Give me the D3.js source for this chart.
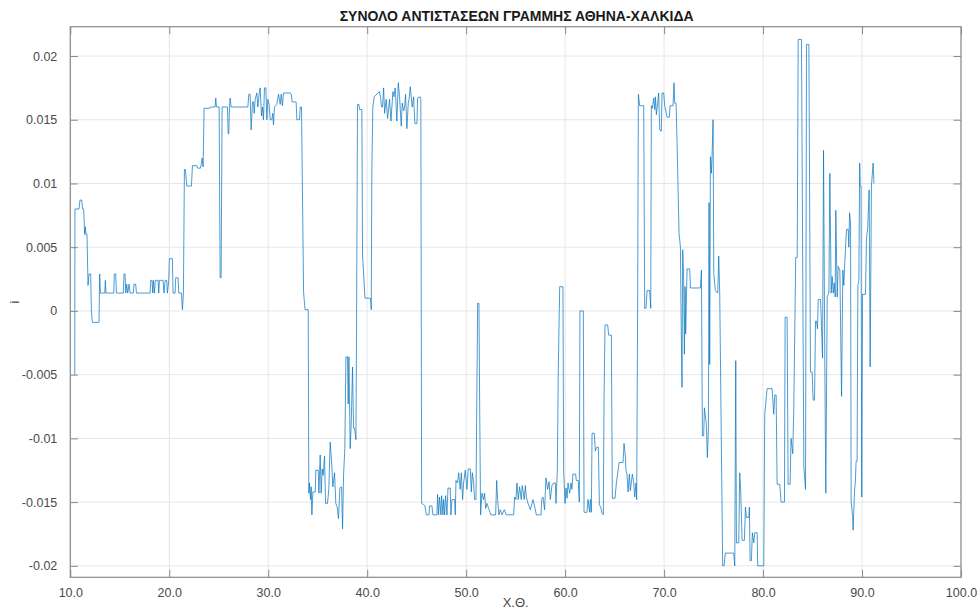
<!DOCTYPE html>
<html>
<head>
<meta charset="utf-8">
<script src="https://cdn.jsdelivr.net/npm/d3@7"></script>
<style>
  html, body { margin: 0; padding: 0; background: #fff; }
  svg { display: block; }
</style>
</head>
<body>
<svg id="chart" width="979" height="611"></svg>
<script>
// Chart text
const chartTitle = "ΣΥΝΟΛΟ ΑΝΤΙΣΤΑΣΕΩΝ ΓΡΑΜΜΗΣ ΑΘΗΝΑ-ΧΑΛΚΙΔΑ";
const xLabel = "Χ.Θ.";
const yLabel = "i";

// Tick values and their labels
const xTicks = [10, 20, 30, 40, 50, 60, 70, 80, 90, 100];
const xTickLabels = ["10.0", "20.0", "30.0", "40.0", "50.0", "60.0", "70.0", "80.0", "90.0", "100.0"];
const yTicks = [0.02, 0.015, 0.01, 0.005, 0, -0.005, -0.01, -0.015, -0.02];
const yTickLabels = ["0.02", "0.015", "0.01", "0.005", "0", "-0.005", "-0.01", "-0.015", "-0.02"];

// Position along the line (Χ.Θ.)
const position = [
  10.45, 10.47, 10.88, 10.98, 11.15, 11.25, 11.35, 11.45, 11.52, 11.59, 11.69, 11.79, 11.89, 12.06, 12.13, 12.23,
  12.90, 12.97, 13.04, 13.48, 13.54, 13.61, 14.39, 14.45, 14.59, 14.66, 15.36, 15.43, 15.53, 15.60, 15.70, 15.80,
  15.94, 16.04, 16.37, 16.44, 16.61, 16.68, 18.06, 18.13, 18.26, 18.33, 18.40, 18.50, 18.60, 18.87, 18.94, 19.00,
  19.37, 19.47, 19.58, 19.74, 19.81, 19.95, 20.01, 20.32, 20.38, 20.59, 20.65, 20.89, 20.96, 21.23, 21.33, 21.43,
  21.53, 21.63, 21.77, 22.24, 22.34, 22.78, 22.88, 23.15, 23.25, 23.32, 23.42, 23.52, 24.06, 24.16, 24.63, 24.70,
  24.77, 25.04, 25.14, 25.24, 25.34, 25.88, 25.95, 26.02, 26.08, 26.15, 26.25, 27.94, 28.04, 28.17, 28.27, 28.41,
  28.51, 28.58, 28.68, 28.85, 28.95, 29.08, 29.18, 29.32, 29.42, 29.52, 29.62, 29.76, 29.86, 29.96, 30.09, 30.20,
  30.36, 30.46, 30.53, 30.63, 30.87, 31.04, 31.21, 31.31, 31.44, 31.54, 32.22, 32.32, 32.42, 32.82, 32.89, 33.16,
  33.23, 33.36, 33.57, 33.63, 33.72, 34.04, 34.10, 34.17, 34.27, 34.34, 34.41, 34.51, 34.75, 34.81, 35.05, 35.12,
  35.25, 35.35, 35.45, 35.55, 35.69, 35.79, 35.99, 36.13, 36.26, 36.40, 36.53, 36.70, 36.83, 36.97, 37.10, 37.24,
  37.41, 37.51, 37.61, 37.74, 37.85, 38.01, 38.08, 38.15, 38.28, 38.38, 38.52, 38.62, 38.72, 38.86, 38.92, 39.02,
  39.16, 39.23, 39.46, 39.53, 39.66, 39.77, 40.34, 40.41, 40.47, 40.57, 40.71, 41.22, 41.35, 41.45, 41.55, 41.66,
  41.76, 41.92, 42.06, 42.26, 42.40, 42.60, 42.70, 42.83, 43.00, 43.14, 43.27, 43.44, 43.54, 43.68, 43.78, 43.88,
  44.01, 44.15, 44.25, 44.35, 44.45, 44.55, 44.69, 44.82, 45.03, 45.09, 45.36, 45.42, 45.50, 45.70, 45.83, 45.97,
  46.24, 46.30, 46.54, 46.64, 47.05, 47.11, 47.21, 47.31, 47.45, 47.52, 47.65, 47.72, 47.82, 47.92, 48.06, 48.16,
  48.39, 48.46, 48.56, 48.83, 48.90, 48.97, 49.13, 49.24, 49.40, 49.51, 49.64, 49.74, 49.91, 50.08, 50.21, 50.42,
  50.52, 50.62, 50.75, 50.85, 50.99, 51.16, 51.29, 51.36, 51.46, 51.59, 51.76, 51.86, 51.97, 52.10, 52.27, 52.50,
  52.98, 53.08, 53.18, 53.31, 53.45, 53.62, 53.85, 54.05, 54.80, 54.90, 55.03, 55.13, 55.27, 55.40, 55.57, 55.67,
  55.87, 55.98, 56.08, 56.25, 56.48, 56.75, 56.99, 57.09, 57.56, 57.63, 57.76, 57.93, 58.06, 58.23, 58.37, 58.50,
  58.67, 58.84, 59.01, 59.08, 59.21, 59.31, 59.45, 59.78, 59.85, 59.99, 60.09, 60.19, 60.29, 60.46, 60.59, 60.69,
  60.79, 61.06, 61.13, 61.33, 61.43, 61.50, 61.84, 61.91, 62.21, 62.31, 62.48, 62.55, 62.65, 62.72, 62.95, 63.05,
  63.19, 63.36, 63.46, 63.59, 63.73, 63.86, 63.93, 64.03, 64.30, 64.40, 64.67, 64.77, 65.04, 65.18, 65.45, 65.85,
  65.95, 66.09, 66.15, 66.25, 66.36, 66.49, 66.59, 66.79, 66.93, 67.03, 67.16, 67.23, 67.33, 67.40, 67.53, 67.94,
  68.04, 68.17, 68.28, 68.54, 68.65, 68.71, 68.81, 68.95, 69.05, 69.12, 69.22, 69.35, 69.45, 69.56, 69.72, 69.79,
  69.96, 70.06, 70.30, 70.53, 70.60, 70.90, 71.00, 71.07, 71.21, 71.31, 71.51, 71.65, 71.71, 71.81, 71.88, 71.98,
  72.05, 72.12, 72.18, 72.32, 72.59, 72.66, 73.67, 73.77, 73.87, 74.00, 74.07, 74.27, 74.37, 74.48, 74.54, 74.61,
  74.68, 74.78, 74.85, 74.95, 75.02, 75.18, 75.42, 75.52, 75.62, 75.92, 76.06, 76.19, 77.04, 77.14, 77.24, 77.31,
  77.54, 77.64, 77.74, 77.88, 78.11, 78.22, 78.32, 78.55, 78.62, 78.69, 78.82, 78.92, 79.06, 79.16, 79.40, 79.46,
  80.07, 80.17, 80.41, 80.91, 81.08, 81.18, 81.32, 81.42, 81.69, 81.82, 82.16, 82.23, 82.43, 82.53, 82.73, 82.83,
  83.00, 83.10, 83.30, 83.45, 83.55, 83.88, 84.12, 84.29, 84.39, 84.63, 84.79, 84.96, 85.06, 85.20, 85.30, 85.40,
  85.50, 85.57, 85.81, 86.01, 86.11, 86.24, 86.34, 86.48, 86.65, 86.75, 86.88, 86.98, 87.09, 87.19, 87.29, 87.35,
  87.49, 87.59, 87.76, 87.93, 88.06, 88.16, 88.23, 88.33, 88.43, 88.60, 88.67, 88.74, 88.84, 88.90, 88.97, 89.05,
  89.10, 89.15, 89.25, 89.32, 89.40, 89.50, 89.58, 89.68, 89.76, 89.82, 89.90, 89.97, 90.05, 90.35, 90.45, 90.58,
  90.72, 90.82, 90.95, 91.12, 91.20
];

// Summed resistance current i at each position
const current = [
  -0.0050, 0.0080, 0.0080, 0.0087, 0.0087, 0.0080, 0.0080, 0.0060, 0.0066, 0.0060, 0.0060, 0.0020, 0.0029, 0.0029, 0.0000, -0.0009,
  -0.0009, 0.0029, 0.0014, 0.0014, 0.0024, 0.0014, 0.0014, 0.0029, 0.0029, 0.0014, 0.0014, 0.0029, 0.0029, 0.0014, 0.0021, 0.0014,
  0.0021, 0.0014, 0.0014, 0.0021, 0.0021, 0.0014, 0.0014, 0.0024, 0.0024, 0.0014, 0.0024, 0.0014, 0.0024, 0.0024, 0.0014, 0.0024,
  0.0024, 0.0014, 0.0024, 0.0024, 0.0014, 0.0024, 0.0041, 0.0041, 0.0014, 0.0014, 0.0026, 0.0026, 0.0014, 0.0014, 0.0001, 0.0014,
  0.0111, 0.0111, 0.0098, 0.0098, 0.0114, 0.0114, 0.0112, 0.0112, 0.0116, 0.0120, 0.0113, 0.0159, 0.0159, 0.0160, 0.0160, 0.0167,
  0.0160, 0.0160, 0.0026, 0.0026, 0.0160, 0.0160, 0.0139, 0.0139, 0.0160, 0.0167, 0.0160, 0.0160, 0.0170, 0.0170, 0.0142, 0.0164,
  0.0164, 0.0155, 0.0166, 0.0171, 0.0160, 0.0170, 0.0175, 0.0153, 0.0160, 0.0150, 0.0175, 0.0175, 0.0150, 0.0166, 0.0162, 0.0150,
  0.0150, 0.0155, 0.0146, 0.0160, 0.0162, 0.0170, 0.0162, 0.0170, 0.0161, 0.0171, 0.0171, 0.0170, 0.0164, 0.0164, 0.0150, 0.0150,
  0.0160, 0.0160, 0.0015, 0.0009, 0.0001, 0.0001, -0.0143, -0.0135, -0.0148, -0.0138, -0.0160, -0.0142, -0.0142, -0.0125, -0.0125, -0.0143,
  -0.0113, -0.0143, -0.0124, -0.0129, -0.0114, -0.0151, -0.0151, -0.0139, -0.0103, -0.0118, -0.0138, -0.0127, -0.0151, -0.0154, -0.0163, -0.0139,
  -0.0138, -0.0171, -0.0129, -0.0108, -0.0036, -0.0036, -0.0073, -0.0036, -0.0108, -0.0090, -0.0044, -0.0092, -0.0092, -0.0101, -0.0020, 0.0162,
  0.0162, 0.0158, 0.0158, 0.0043, 0.0026, 0.0010, 0.0010, 0.0001, 0.0111, 0.0160, 0.0168, 0.0172, 0.0168, 0.0160, 0.0160, 0.0175,
  0.0155, 0.0166, 0.0151, 0.0166, 0.0149, 0.0172, 0.0168, 0.0175, 0.0149, 0.0179, 0.0168, 0.0145, 0.0163, 0.0157, 0.0160, 0.0170,
  0.0143, 0.0163, 0.0167, 0.0176, 0.0168, 0.0160, 0.0168, 0.0147, 0.0147, 0.0167, 0.0168, 0.0166, -0.0151, -0.0152, -0.0153, -0.0160,
  -0.0160, -0.0153, -0.0153, -0.0160, -0.0160, -0.0144, -0.0160, -0.0146, -0.0160, -0.0145, -0.0160, -0.0148, -0.0160, -0.0145, -0.0160, -0.0139,
  -0.0139, -0.0160, -0.0148, -0.0148, -0.0160, -0.0133, -0.0135, -0.0127, -0.0140, -0.0127, -0.0148, -0.0135, -0.0125, -0.0140, -0.0124, -0.0124,
  -0.0142, -0.0127, -0.0135, -0.0148, -0.0148, 0.0006, 0.0006, -0.0071, -0.0160, -0.0143, -0.0148, -0.0143, -0.0155, -0.0151, -0.0155, -0.0160,
  -0.0160, -0.0133, -0.0148, -0.0160, -0.0156, -0.0160, -0.0156, -0.0160, -0.0160, -0.0146, -0.0148, -0.0135, -0.0148, -0.0138, -0.0148, -0.0137,
  -0.0148, -0.0137, -0.0146, -0.0151, -0.0156, -0.0148, -0.0156, -0.0160, -0.0160, -0.0148, -0.0146, -0.0156, -0.0131, -0.0140, -0.0134, -0.0148,
  -0.0137, -0.0135, -0.0135, -0.0151, -0.0125, -0.0046, 0.0019, 0.0019, -0.0126, -0.0151, -0.0139, -0.0147, -0.0135, -0.0143, -0.0135, -0.0140,
  -0.0128, -0.0128, -0.0133, -0.0133, -0.0150, 0.0000, 0.0000, -0.0158, -0.0158, -0.0148, -0.0158, -0.0148, -0.0158, -0.0096, -0.0096, -0.0110,
  -0.0107, -0.0107, -0.0152, -0.0154, -0.0159, -0.0160, -0.0070, -0.0011, -0.0011, -0.0019, -0.0019, -0.0147, -0.0147, -0.0135, -0.0119, -0.0119,
  -0.0104, -0.0114, -0.0125, -0.0128, -0.0142, -0.0128, -0.0141, -0.0128, -0.0135, -0.0146, -0.0135, -0.0148, 0.0011, 0.0170, 0.0161, 0.0161,
  0.0002, 0.0002, 0.0016, 0.0016, 0.0002, 0.0161, 0.0159, 0.0167, 0.0158, 0.0168, 0.0154, 0.0163, 0.0171, 0.0142, 0.0141, 0.0171,
  0.0171, 0.0161, 0.0152, 0.0152, 0.0161, 0.0161, 0.0179, 0.0163, 0.0163, 0.0132, 0.0061, 0.0050, 0.0000, -0.0060, 0.0048, 0.0024,
  -0.0034, 0.0019, -0.0018, 0.0033, 0.0033, 0.0018, 0.0018, 0.0032, -0.0098, -0.0098, -0.0076, -0.0089, -0.0115, -0.0092, 0.0085, -0.0042,
  0.0121, 0.0108, 0.0123, 0.0150, 0.0029, 0.0016, 0.0014, 0.0043, 0.0014, -0.0200, -0.0200, -0.0190, -0.0190, -0.0200, -0.0039, -0.0182,
  -0.0182, -0.0127, -0.0141, -0.0180, -0.0180, -0.0154, -0.0162, -0.0162, -0.0154, -0.0196, -0.0196, -0.0174, -0.0182, -0.0174, -0.0174, -0.0200,
  -0.0200, -0.0081, -0.0061, -0.0061, -0.0081, -0.0066, -0.0066, -0.0136, -0.0136, -0.0150, -0.0150, -0.0005, -0.0005, -0.0136, -0.0136, -0.0100,
  -0.0112, -0.0078, 0.0042, 0.0042, 0.0213, 0.0213, -0.0122, -0.0140, 0.0209, 0.0209, -0.0048, -0.0048, -0.0070, -0.0070, -0.0008, -0.0008,
  -0.0014, 0.0009, 0.0009, -0.0037, 0.0126, -0.0041, -0.0143, 0.0011, 0.0014, 0.0108, 0.0014, 0.0027, 0.0014, 0.0022, 0.0011, 0.0079,
  0.0011, 0.0035, 0.0032, -0.0067, 0.0032, 0.0020, 0.0034, 0.0049, 0.0064, 0.0064, 0.0050, 0.0077, 0.0069, -0.0150, -0.0155, -0.0162,
  -0.0172, -0.0160, -0.0140, -0.0135, -0.0118, -0.0118, 0.0020, 0.0024, 0.0116, 0.0098, 0.0098, -0.0146, 0.0013, 0.0013, 0.0057, 0.0066,
  0.0095, -0.0044, 0.0098, 0.0116, 0.0100
];

const series = position.map((p, k) => ({ x: p, y: current[k] }));

// Plot box and scales
const plot = { left: 70.3, right: 961, top: 26.7, bottom: 577.3 };
const x = d3.scaleLinear().domain([10, 100]).range([plot.left, plot.right]);
const y = d3.scaleLinear().domain([-0.0209, 0.0223]).range([plot.bottom, plot.top]);

const svg = d3.select("#chart");
const font = "'Liberation Sans', Arial, Helvetica, sans-serif";
const tickLen = 7.5;

// Grid
const grid = svg.append("g").attr("stroke", "#e6e6e6").attr("stroke-width", 1);
grid.selectAll("line.v").data(xTicks).join("line")
  .attr("x1", d => x(d)).attr("x2", d => x(d))
  .attr("y1", plot.top).attr("y2", plot.bottom);
grid.selectAll("line.h").data(yTicks).join("line")
  .attr("x1", plot.left).attr("x2", plot.right)
  .attr("y1", d => y(d)).attr("y2", d => y(d));

// Data line, clipped to the plot box
svg.append("clipPath").attr("id", "plotClip").append("rect")
  .attr("x", plot.left).attr("y", plot.top)
  .attr("width", plot.right - plot.left).attr("height", plot.bottom - plot.top);

const line = d3.line().x(d => x(d.x)).y(d => y(d.y));
svg.append("path")
  .datum(series)
  .attr("clip-path", "url(#plotClip)")
  .attr("fill", "none")
  .attr("stroke", "#0072BD")
  .attr("stroke-opacity", 0.7)
  .attr("stroke-width", 1)
  .attr("stroke-linejoin", "round")
  .attr("d", line);

// Axes (ticks inward, mirrored on top and right)
const axisColor = "#8a8a8a";
const xAxis = d3.axisBottom(x).tickValues(xTicks).tickSizeInner(-tickLen).tickSizeOuter(0)
  .tickFormat((d, k) => xTickLabels[k]).tickPadding(11);
const yAxis = d3.axisLeft(y).tickValues(yTicks).tickSizeInner(-tickLen).tickSizeOuter(0)
  .tickFormat((d, k) => yTickLabels[k]).tickPadding(13);
const xTop = d3.axisTop(x).tickValues(xTicks).tickSizeInner(-tickLen).tickSizeOuter(0).tickFormat("");
const yRight = d3.axisRight(y).tickValues(yTicks).tickSizeInner(-tickLen).tickSizeOuter(0).tickFormat("");

function styleAxis(g) {
  g.select(".domain").remove();
  g.selectAll(".tick line").attr("stroke", axisColor);
  g.selectAll(".tick text").attr("fill", "#4a4a4a").style("font-family", font).style("font-size", "12.5px");
}
svg.append("g").attr("transform", `translate(0,${plot.bottom})`).call(xAxis).call(styleAxis);
svg.append("g").attr("transform", `translate(${plot.left},0)`).call(yAxis).call(styleAxis);
svg.append("g").attr("transform", `translate(0,${plot.top})`).call(xTop).call(styleAxis);
svg.append("g").attr("transform", `translate(${plot.right},0)`).call(yRight).call(styleAxis);

// Box outline
svg.append("rect")
  .attr("x", plot.left).attr("y", plot.top)
  .attr("width", plot.right - plot.left).attr("height", plot.bottom - plot.top)
  .attr("fill", "none").attr("stroke", axisColor).attr("stroke-width", 1.2);

// Title and axis labels
svg.append("text")
  .attr("x", (plot.left + plot.right) / 2 + 1).attr("y", 21)
  .attr("text-anchor", "middle")
  .style("font-family", font).style("font-weight", "bold").style("font-size", "14px")
  .attr("fill", "#1a1a1a")
  .text(chartTitle);

svg.append("text")
  .attr("x", (plot.left + plot.right) / 2).attr("y", 607)
  .attr("text-anchor", "middle")
  .style("font-family", font).style("font-size", "13px")
  .attr("fill", "#4a4a4a")
  .text(xLabel);

svg.append("text")
  .attr("transform", `translate(19,${(plot.top + plot.bottom) / 2}) rotate(-90)`)
  .attr("text-anchor", "middle")
  .style("font-family", font).style("font-size", "13px")
  .attr("fill", "#4a4a4a")
  .text(yLabel);
</script>
</body>
</html>
